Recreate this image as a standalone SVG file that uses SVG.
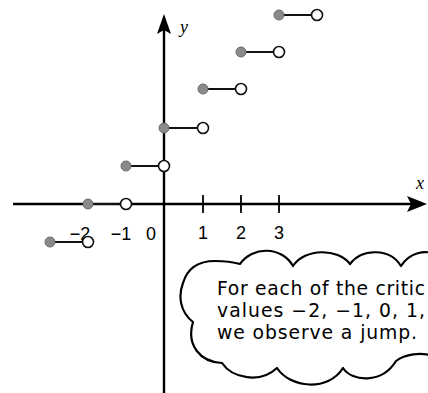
<svg xmlns="http://www.w3.org/2000/svg" width="428" height="393" viewBox="0 0 428 393">
<style>
.ax{stroke:#000;stroke-width:2.4;fill:none}
.tk{stroke:#000;stroke-width:1.8}
.seg{stroke:#111;stroke-width:1.8}
.fd{fill:#8a8a8a;stroke:#6a6a6a;stroke-width:1}
.od{fill:#fff;stroke:#111;stroke-width:1.6}
.num{font-family:"Liberation Sans",Arial,sans-serif;font-size:18px;fill:#000}
.var{font-family:"Liberation Serif","Times New Roman",serif;font-style:italic;font-size:18px;fill:#000}
.note{font-family:"DejaVu Sans","Open Sans",sans-serif;font-size:18.8px;fill:#000}
.cloud{fill:#fff;stroke:#000;stroke-width:2.2;stroke-linejoin:round}
</style>
<rect width="428" height="393" fill="#fff"/>
<g id="axes">
<line class="ax" x1="13" y1="204" x2="412" y2="204"/>
<polygon points="427,204 407,196 411,204 407,212" fill="#000"/>
<line class="ax" x1="164" y1="393" x2="164" y2="30"/>
<polygon points="164,14 157,34 164,30 171,34" fill="#000"/>
<line class="tk" x1="203" y1="195" x2="203" y2="213"/>
<line class="tk" x1="241" y1="195" x2="241" y2="213"/>
<line class="tk" x1="279" y1="195" x2="279" y2="213"/>
<text class="var" x="180" y="33">y</text>
<text class="var" x="416" y="189">x</text>
<text class="num" x="80" y="240" text-anchor="middle">−2</text>
<text class="num" x="121" y="240" text-anchor="middle">−1</text>
<text class="num" x="151" y="240" text-anchor="middle">0</text>
<text class="num" x="203" y="239" text-anchor="middle">1</text>
<text class="num" x="241" y="239" text-anchor="middle">2</text>
<text class="num" x="279" y="239" text-anchor="middle">3</text>
</g>
<g id="connectors">
<line class="seg" x1="50" y1="242" x2="83" y2="242"/>
<line class="seg" x1="88" y1="204" x2="121" y2="204"/>
<line class="seg" x1="126" y1="166" x2="159" y2="166"/>
<line class="seg" x1="164" y1="128" x2="198" y2="128"/>
<line class="seg" x1="203" y1="89" x2="236" y2="89"/>
<line class="seg" x1="241" y1="52" x2="274" y2="52"/>
<line class="seg" x1="279" y1="15" x2="312" y2="15"/>
</g>
<g id="step-m2"><circle class="fd" cx="50" cy="242" r="5"/><circle class="od" cx="88" cy="242" r="5.5"/></g>
<g id="step-m1"><circle class="fd" cx="88" cy="204" r="5"/><circle class="od" cx="126" cy="204" r="5.5"/></g>
<g id="step-0"><circle class="fd" cx="126" cy="166" r="5"/><circle class="od" cx="164" cy="166" r="5.5"/></g>
<g id="step-1"><circle class="fd" cx="164" cy="128" r="5"/><circle class="od" cx="203" cy="128" r="5.5"/></g>
<g id="step-2"><circle class="fd" cx="203" cy="89" r="5"/><circle class="od" cx="241" cy="89" r="5.5"/></g>
<g id="step-3"><circle class="fd" cx="241" cy="52" r="5"/><circle class="od" cx="279" cy="52" r="5.5"/></g>
<g id="step-4"><circle class="fd" cx="279" cy="15" r="5"/><circle class="od" cx="317" cy="15" r="5.5"/></g>
<g id="cloud-note">
<path class="cloud" d="M193,322 C180,312 178,296 183,283 C188,266 200,261 215,261 C225,261 233,262 240,264 C252,246 282,246 293,266 C305,248 338,248 350,264 C362,248 390,248 401,266 C410,252 425,250 435,254 L435,356 C420,352 405,354 396,361 C382,384 352,382 343,368 C328,392 290,388 277,368 C260,384 232,378 222,363 C200,362 186,345 193,322 Z"/>
<text class="note"><tspan x="217" y="295" textLength="208" lengthAdjust="spacing">For each of the critic</tspan><tspan x="217" y="317" textLength="208" lengthAdjust="spacing">values −2, −1, 0, 1,</tspan><tspan x="217" y="339" textLength="200" lengthAdjust="spacing">we observe a jump.</tspan></text>
</g>
</svg>
